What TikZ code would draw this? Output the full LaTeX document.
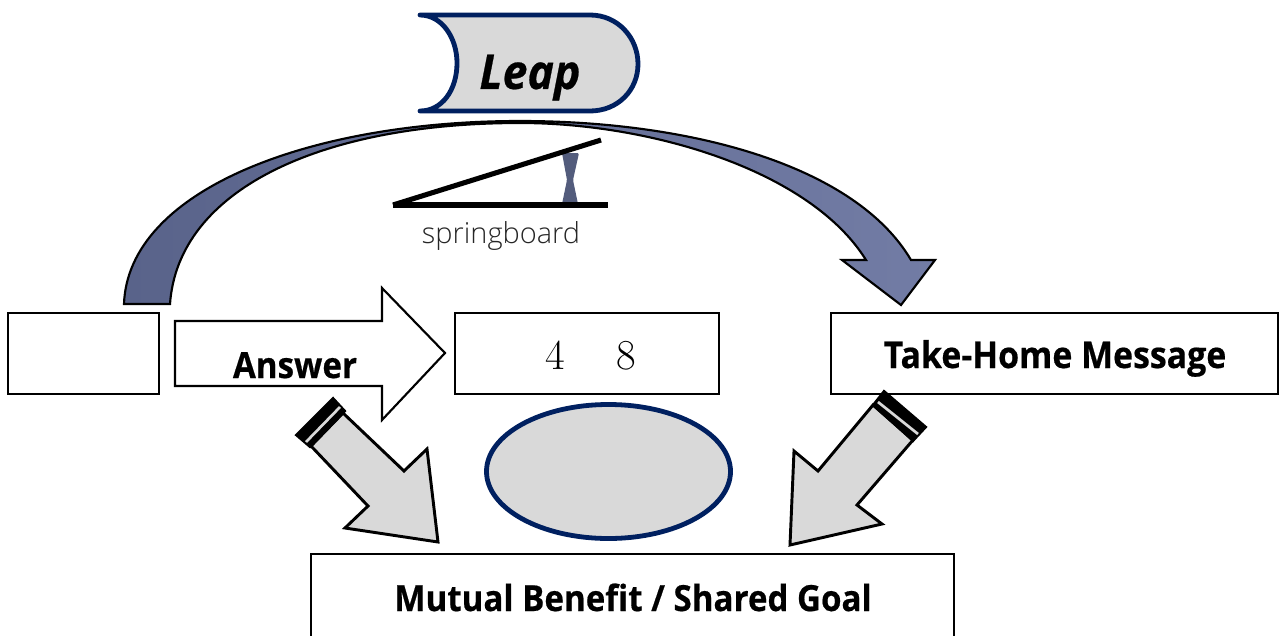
\documentclass[tikz,border=0pt]{standalone}
\usepackage{fontspec}
\setmainfont{Open Sans}[BoldFeatures={FakeStretch=0.92,FakeBold=0.5},BoldItalicFeatures={FakeStretch=0.93,FakeBold=0.5}]
\newfontfamily\serifdigits{Latin Modern Roman}
\newfontfamily\lightface{Open Sans Light}
\definecolor{navy}{HTML}{002060}
\definecolor{panel}{HTML}{D9D9D9}
\definecolor{arcdark}{HTML}{59638A}
\definecolor{arclight}{HTML}{727CA5}
\definecolor{post}{HTML}{535C7C}
\tikzset{
  box/.style={draw=black,line width=1.6pt,fill=white,inner sep=0pt,minimum width=#1},
  lbl/.style={font=\bfseries\fontsize{27}{30}\selectfont,inner sep=0pt,text=black,anchor=base},
  blockarrow/.style={draw=black,line width=2.2pt,fill=panel,line join=miter},
  endband/.style={draw=black,line width=1.6pt,fill=black,line join=miter},
  bandgap/.style={draw=panel,line width=2pt},
  navyshape/.style={draw=navy,line width=3.6pt,fill=panel,line join=round,line cap=round}
}
\begin{document}
\begin{tikzpicture}[x=0.75pt,y=-0.75pt]
\useasboundingbox (0,0) rectangle (1284,635);
% boxes
\node[box=113.25pt,minimum height=60.75pt] (left) at (83.5,353.5) {};
\node[box=198pt,minimum height=60.75pt] (mid) at (587,353.5) {};
\node[box=335.25pt,minimum height=60.75pt] (home) at (1054.5,353.5) {};
\node[box=482.25pt,minimum height=109.5pt] (goal) at (632.5,627) {};
\node[inner sep=0pt,anchor=base,font=\serifdigits\fontsize{32}{36}\selectfont] (mida) at (555.5,369) {4};
\node[inner sep=0pt,anchor=base,font=\serifdigits\fontsize{32}{36}\selectfont] (midb) at (626,369) {8};
\node[lbl,font=\bfseries\fontsize{27.6}{30}\selectfont] (homet) at (1055,368) {Take-Home Message};
\node[lbl] (goalt) at (633,611) {Mutual Benefit / Shared Goal};
% Leap
\draw[navyshape] (420,15) -- (590,15) .. controls (618,15) and (638,38) .. (638,64)
  .. controls (638,90) and (618,111) .. (590,111) -- (420,111)
  .. controls (442,111) and (457,90) .. (457,63) .. controls (457,38) and (442,15) .. (420,15) -- cycle;
\node[font=\bfseries\itshape\fontsize{36}{40}\selectfont,inner sep=0pt,anchor=base] (leap) at (530,89) {Leap};
% curved arrow
\draw[black,line width=1.6pt,left color=arcdark,right color=arclight,line join=miter]
  (124,304) .. controls (128,190) and (310,121) .. (520,121)
  .. controls (690,121) and (855,165) .. (911,260) -- (935,260) -- (901,305) -- (842,260) -- (866,260)
  .. controls (810,170) and (650,123) .. (520,123)
  .. controls (320,123) and (178,190) .. (170,304) -- cycle;
% springboard
\fill[post,rounded corners=1pt] (562,153) -- (579,153) -- (573,180) -- (578,204) -- (562,204) -- (567,180) -- cycle;
\draw[black,line width=3.8pt] (393,205) -- (608,205);
\draw[black,line width=3.8pt] (393,205) -- (601,140);
\node[font=\lightface\fontsize{21.7}{24}\selectfont,inner sep=0pt,anchor=base,text=black!85] (spring) at (501,243) {springboard};
% answer arrow
\draw[black,line width=1.6pt,fill=white,line join=miter] (175,321) -- (382,321) -- (382,288) -- (445,353) -- (382,420) -- (382,386) -- (175,386) -- cycle;
\node[lbl] (ans) at (295,378) {Answer};
% block arrows
\draw[blockarrow] (311,446) -- (343,413) -- (404,471) -- (427,449) -- (438,542) -- (345,528) -- (368,506) -- cycle;
\draw[endband] (296,435) -- (333,398) -- (345,411) -- (310,447) -- cycle;
\draw[bandgap] (306,442) -- (340,407);
\draw[blockarrow] (873,405) -- (913,440) -- (857,505) -- (882,524) -- (790,545) -- (794,451) -- (818,471) -- cycle;
\draw[endband] (884,391) -- (926,427) -- (913,441) -- (873,405) -- cycle;
\draw[bandgap] (878,402) -- (918,434);
% ellipse
\draw[navy,line width=3.6pt,fill=panel] (608.5,471.5) ellipse [x radius=122,y radius=67];
\end{tikzpicture}
\end{document}
